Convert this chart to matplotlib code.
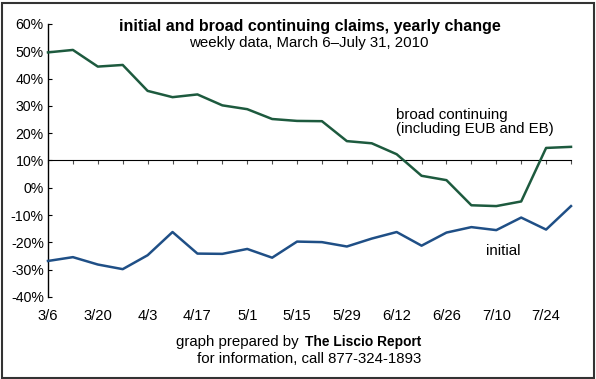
import numpy as np
import matplotlib.pyplot as plt
from matplotlib.patches import Rectangle

plt.rcParams['font.family'] = ['Liberation Sans', 'DejaVu Sans']

# weekly data, March 6 - July 31, 2010
weeks = ['3/6', '3/13', '3/20', '3/27', '4/3', '4/10', '4/17', '4/24', '5/1', '5/8',
         '5/15', '5/22', '5/29', '6/5', '6/12', '6/19', '6/26', '7/3', '7/10', '7/17',
         '7/24', '7/31']
broad = [49.6, 50.5, 44.4, 45.0, 35.5, 33.2, 34.2, 30.2, 28.8, 25.2, 24.5,
         24.4, 17.1, 16.3, 12.3, 4.4, 2.8, -6.4, -6.7, -5.0, 14.6, 15.0]
initial = [-26.8, -25.4, -28.1, -29.8, -24.7, -16.2, -24.1, -24.2, -22.4, -25.6, -19.7,
           -19.9, -21.5, -18.6, -16.2, -21.2, -16.4, -14.4, -15.5, -10.9, -15.3, -6.7]
yticks = [-40, -30, -20, -10, 0, 10, 20, 30, 40, 50, 60]

W, H = 596, 379
fig = plt.figure(figsize=(W / 100, H / 100), dpi=100)
ax = fig.add_axes([48 / W, 1 - 297 / H, (571 - 48) / W, (297 - 24) / H])

x = np.arange(len(weeks))
ax.plot(x, broad, color='#1d5a3e', lw=1.8, clip_on=False, zorder=3)
ax.plot(x, initial, color='#1f4f86', lw=1.8, clip_on=False, zorder=3)

ax.set_xlim(0, len(weeks) - 1)
ax.set_ylim(-40, 60)

for s in ['top', 'right', 'bottom']:
    ax.spines[s].set_visible(False)
ax.spines['left'].set_linewidth(1.0)

ax.set_yticks(yticks)
ax.set_yticklabels([f'{v}%' for v in yticks], fontsize=10.2)
ax.tick_params(axis='y', direction='in', length=3, width=0.8, pad=3)

# labels every two weeks at the bottom
ax.set_xticks(x[::2])
ax.set_xticklabels(weeks[::2], fontsize=10.6)
ax.tick_params(axis='x', length=0, pad=9)

# 10% reference line with weekly ticks
ref = ax.secondary_xaxis(0.5)
ref.spines['bottom'].set_color('#707070')
ref.spines['bottom'].set_linewidth(1.6)
ref.set_xticks(x)
ref.set_xticklabels([''] * len(x))
ref.tick_params(axis='x', direction='in', length=3, width=0.8, color='#505050')

def px(xp, yp):
    return xp / W, 1 - yp / H

fig.text(*px(310, 26), 'initial and broad continuing claims, yearly change',
         ha='center', va='center', fontsize=11.5, fontweight='bold')
fig.text(*px(309, 43), 'weekly data, March 6\u2013July 31, 2010',
         ha='center', va='center', fontsize=10.8)

fig.text(*px(396, 115), 'broad continuing', ha='left', va='center', fontsize=10.9)
fig.text(*px(396, 129), '(including EUB and EB)', ha='left', va='center', fontsize=10.8)
fig.text(*px(486, 251), 'initial', ha='left', va='center', fontsize=10.9)

fig.text(*px(303, 342), 'graph prepared by ', ha='right', va='center', fontsize=10.8)
fig.text(*px(305, 342), 'The Liscio Report', ha='left', va='center', fontsize=9.9,
         fontweight='bold')
fig.text(*px(309, 359), 'for information, call 877-324-1893', ha='center',
         va='center', fontsize=10.8)

fig.patches.append(Rectangle((1.5 / W, 1.5 / H), 1 - 4 / W, 1 - 4 / H,
                             transform=fig.transFigure, fill=False,
                             edgecolor='#333333', lw=1.5))

fig.savefig('out.png', dpi=100)
